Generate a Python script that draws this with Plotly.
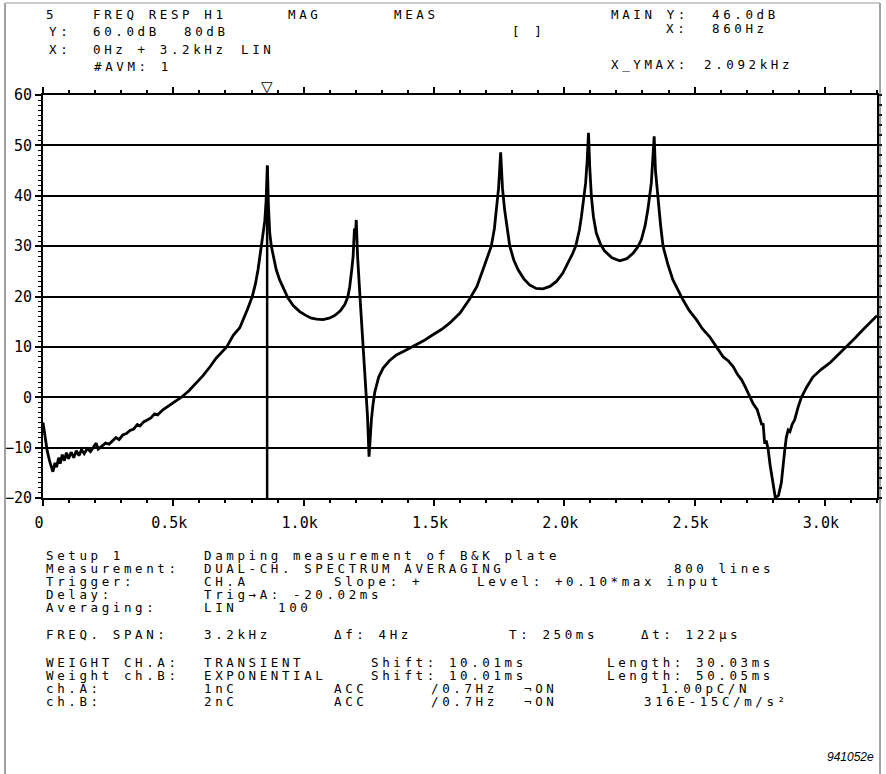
import plotly.graph_objects as go

# Frequency response H1 of a B&K plate
freq_hz = [
    0, 8, 16, 26, 38, 46, 52, 60, 66, 74, 82, 90, 98, 108, 118, 128, 138, 148, 158, 170,
    182, 194, 204, 212, 226, 240, 254, 266, 280, 292, 306, 320, 334, 348, 362, 372, 386, 400,
    414, 428, 440, 460, 480, 505, 531, 560, 590, 614, 640, 665, 705, 730, 755, 770, 785, 803,
    815, 825, 834, 842, 851, 856, 861, 865, 870, 876, 883, 895, 908, 925, 940, 960, 985, 1010,
    1030, 1050, 1074, 1098, 1119, 1140, 1158, 1170, 1177, 1185, 1190, 1195, 1198, 1202, 1207,
    1218, 1228, 1238, 1245, 1251, 1256, 1260, 1266, 1273, 1288, 1305, 1330, 1356, 1390, 1420,
    1460, 1496, 1530, 1560, 1600, 1637, 1665, 1688, 1708, 1720, 1732, 1740, 1748, 1756, 1763,
    1771, 1780, 1791, 1806, 1823, 1845, 1867, 1892, 1918, 1945, 1970, 1994, 2014, 2032, 2044,
    2058, 2066, 2076, 2082, 2088, 2093, 2098, 2104, 2112, 2123, 2138, 2155, 2183, 2213, 2240,
    2264, 2282, 2296, 2310, 2321, 2334, 2340, 2345, 2350, 2360, 2370, 2379, 2398, 2417, 2436,
    2456, 2480, 2507, 2530, 2558, 2584, 2610, 2630, 2648, 2665, 2680, 2695, 2712, 2725, 2740,
    2750, 2758, 2763, 2769, 2775, 2782, 2790, 2801, 2810, 2822, 2833, 2846, 2852, 2859, 2866,
    2875, 2884, 2897, 2910, 2930, 2954, 2985, 3019, 3050, 3083, 3115, 3146, 3175, 3200,
]
mag_db = [
    -5.0, -8.2, -10.6, -12.8, -14.8, -13.0, -13.9, -12.0, -13.2, -11.4, -12.6, -11.0, -12.2,
    -10.9, -12.0, -10.6, -11.6, -10.4, -11.2, -10.2, -10.8, -9.9, -9.1, -10.3, -9.6, -9.1, -9.3,
    -8.6, -8.0, -8.4, -7.5, -7.2, -6.6, -6.3, -5.4, -5.7, -4.9, -4.5, -4.1, -3.3, -3.5, -2.5,
    -1.8, -0.9, 0.0, 1.3, 3.0, 4.3, 6.0, 7.8, 10.0, 12.3, 13.8, 15.6, 17.5, 20.0,
    22.5, 25.3, 28.5, 31.5, 35.0, 39.0, 46.0, 38.0, 32.6, 30.0, 28.0, 25.3, 23.3, 21.2, 19.7,
    18.2, 17.0, 16.2, 15.7, 15.5, 15.4, 15.7, 16.2, 17.1, 18.4, 20.0, 22.0, 25.5, 28.0, 33.5,
    31.5, 35.2, 28.0, 18.5, 10.0, 2.0, -3.7, -11.8, -7.5, -4.5, -1.5, 1.0, 4.0, 5.8, 7.3, 8.4,
    9.3, 10.1, 11.2, 12.4, 13.5, 14.7, 16.7, 19.5, 22.0, 25.3, 28.3, 30.0, 33.5, 37.3, 41.5,
    48.6, 41.5, 37.3, 33.5, 30.0, 27.3, 25.3, 23.5, 22.3, 21.6, 21.5, 22.0, 23.0, 24.6, 26.6,
    28.5, 30.0, 33.2, 35.9, 39.5, 42.5, 47.0, 52.5, 45.5, 39.9, 35.8, 32.6, 30.5, 29.0, 27.7,
    27.1, 27.5, 28.6, 29.8, 31.3, 34.0, 37.3, 42.5, 47.0, 51.8, 45.0, 39.2, 34.0, 30.0, 26.3,
    23.3, 21.3, 19.3, 17.2, 15.4, 13.6, 12.0, 10.0, 8.0, 7.2, 6.1, 4.5, 3.5, 2.0, 0.0, -1.3,
    -2.4, -3.9, -5.5, -5.2, -9.2, -8.6, -10.2, -13.5, -17.1, -20.0, -19.5, -17.0, -10.5, -8.0,
    -6.5, -6.8, -5.3, -4.5, -2.0, 0.0, 2.0, 4.0, 5.5, 6.8, 8.4, 10.0, 11.7, 13.4, 14.8, 16.2,
]

cursor_hz = 860
cursor_db = 46.0

x_tickvals = [0, 500, 1000, 1500, 2000, 2500, 3000]
x_ticktext = ["0", "0.5k", "1.0k", "1.5k", "2.0k", "2.5k", "3.0k"]
y_tickvals = [60, 50, 40, 30, 20, 10, 0, -10, -20]

FONT = "DejaVu Sans Mono"
W, H = 886, 774
L, R, T, B = 43, 9, 95, 276


def px(x):
    return (x - L) / (W - L - R)


def py(y):
    return (H - B - y) / (H - T - B)


fig = go.Figure()

fig.add_trace(go.Scatter(
    x=freq_hz, y=mag_db, mode="lines",
    line=dict(color="black", width=2.8),
    showlegend=False, hoverinfo="skip",
))

# cursor line at the marked frequency
fig.add_trace(go.Scatter(
    x=[cursor_hz, cursor_hz], y=[-20, cursor_db], mode="lines",
    line=dict(color="black", width=2.5),
    showlegend=False, hoverinfo="skip", yaxis="y2",
))

tick_font = dict(family=FONT, size=15, color="black")

fig.update_layout(
    width=W, height=H,
    margin=dict(l=L, r=R, t=T, b=B, autoexpand=False),
    paper_bgcolor="white", plot_bgcolor="white",
    font=dict(family=FONT, size=12, color="black"),
    xaxis=dict(
        range=[0, 3200], showline=True, linecolor="black", linewidth=2,
        mirror="ticks", ticks="outside", ticklen=6, tickwidth=1.5, tickcolor="black",
        tickvals=x_tickvals, ticktext=x_ticktext, tickfont=tick_font,
        ticklabelstandoff=4, ticklabelshift=-4, automargin=False,
        minor=dict(dtick=100, tick0=0, ticks="outside", ticklen=3, tickwidth=1.5, tickcolor="black"),
        showgrid=False, zeroline=False,
    ),
    yaxis=dict(
        range=[-20, 60], showline=True, linecolor="black", linewidth=2,
        ticks="outside", ticklen=6, tickwidth=1.5, tickcolor="black",
        tickvals=y_tickvals, tickfont=tick_font, ticklabelstandoff=0, automargin=False,
        minor=dict(dtick=1, tick0=0, ticks="outside", ticklen=3, tickwidth=1, tickcolor="black"),
        showgrid=True, gridcolor="black", gridwidth=2, zeroline=False,
    ),
    yaxis2=dict(
        range=[-20, 60], overlaying="y", side="right", anchor="x", automargin=False,
        showline=True, linecolor="black", linewidth=2,
        ticks="outside", dtick=2, tick0=0, ticklen=3, tickwidth=1.5, tickcolor="black",
        showticklabels=False, showgrid=False, zeroline=False,
    ),
)

# cursor marker above the frame
fig.add_annotation(
    x=cursor_hz, y=1, xref="x", yref="paper", text="<b>▽</b>", showarrow=False,
    yanchor="bottom", yshift=-3, font=dict(family="DejaVu Sans", size=15, color="black"),
)


def txt(x, y, s, size=12.5):
    fig.add_annotation(
        x=px(x), y=py(y), xref="paper", yref="paper",
        text=f'<span style="letter-spacing:3.6px">{s}</span>',
        showarrow=False, xanchor="left", yanchor="middle", borderpad=0,
        font=dict(family=FONT, size=size, color="black"),
    )


# header block
header = [
    (45, 15, "5"), (92, 15, "FREQ RESP H1"), (287, 15, "MAG"), (393, 15, "MEAS"),
    (610, 14, "MAIN Y:"), (711, 14, "46.0dB"),
    (48, 32, "Y:"), (92, 32, "60.0dB"), (183, 32, "80dB"), (511, 32, "[ ]"),
    (665, 28, "X:"), (711, 28, "860Hz"),
    (48, 49, "X:"), (92, 49, "0Hz + 3.2kHz"), (240, 49, "LIN"),
    (93, 66, "#AVM: 1"), (610, 64, "X_YMAX:"), (703, 64, "2.092kHz"),
]
for hx, hy, s in header:
    txt(hx, hy, s)

# setup block under the plot
setup = [
    (45, 555, "Setup 1"), (203, 555, "Damping measurement of B&K plate"),
    (45, 568, "Measurement:"), (203, 568, "DUAL-CH. SPECTRUM AVERAGING"), (673, 568, "800 lines"),
    (45, 581, "Trigger:"), (203, 581, "CH.A"), (333, 581, "Slope: +"),
    (476, 581, "Level: +0.10*max input"),
    (45, 594, "Delay:"), (203, 594, "Trig→A: -20.02ms"),
    (45, 607, "Averaging:"), (203, 607, "LIN"), (277, 607, "100"),
    (45, 634, "FREQ. SPAN:"), (203, 634, "3.2kHz"), (333, 634, "Δf: 4Hz"),
    (508, 634, "T: 250ms"), (640, 634, "Δt: 122μs"),
    (45, 662, "WEIGHT CH.A:"), (203, 662, "TRANSIENT"), (370, 662, "Shift: 10.01ms"),
    (606, 662, "Length: 30.03ms"),
    (45, 675, "Weight ch.B:"), (203, 675, "EXPONENTIAL"), (370, 675, "Shift: 10.01ms"),
    (606, 675, "Length: 50.05ms"),
    (45, 688, "ch.A:"), (203, 688, "1nC"), (333, 688, "ACC"), (430, 688, "/0.7Hz"),
    (523, 688, "¬ON"), (660, 688, "1.00pC/N"),
    (45, 701, "ch.B:"), (203, 701, "2nC"), (333, 701, "ACC"), (430, 701, "/0.7Hz"),
    (523, 701, "¬ON"), (643, 701, "316E-15C/m/s²"),
]
for sx, sy, s in setup:
    txt(sx, sy, s)

fig.add_annotation(
    x=px(876), y=py(757), xref="paper", yref="paper", text="<i>941052e</i>",
    showarrow=False, xanchor="right", yanchor="middle",
    font=dict(family="Liberation Sans", size=12, color="black"),
)

# page frame
frame = dict(color="#444", width=1)
fig.add_shape(type="line", xref="paper", yref="paper",
              x0=px(5), x1=px(5), y0=py(3), y1=py(774), line=frame)
fig.add_shape(type="line", xref="paper", yref="paper",
              x0=px(880), x1=px(880), y0=py(3), y1=py(774), line=frame)
fig.add_shape(type="line", xref="paper", yref="paper",
              x0=px(5), x1=px(880), y0=py(3), y1=py(3), line=dict(color="#999", width=1))

# drop the default page margin so the figure sits at the window's corner
fig.write_html(
    "out.html",
    config={"displayModeBar": False},
    post_script="document.body.style.margin='0';",
)
